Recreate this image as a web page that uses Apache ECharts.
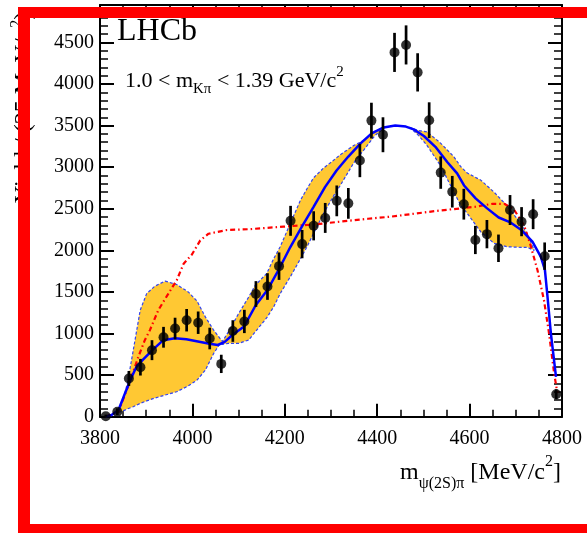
<!DOCTYPE html>
<html>
<head>
<meta charset="utf-8">
<script src="https://cdn.jsdelivr.net/npm/echarts@6/dist/echarts.min.js"></script>
<style>
  html, body { margin: 0; padding: 0; background: #ffffff; }
  #chart { width: 587px; height: 533px; }
</style>
</head>
<body>
<div id="chart"></div>
<script>
// Bin centres (MeV/c^2), yields and statistical errors
const binCenters = [3812.5, 3837.5, 3862.5, 3887.5, 3912.5, 3937.5, 3962.5, 3987.5, 4012.5, 4037.5,
                    4062.5, 4087.5, 4112.5, 4137.5, 4162.5, 4187.5, 4212.5, 4237.5, 4262.5, 4287.5,
                    4312.5, 4337.5, 4362.5, 4387.5, 4412.5, 4437.5, 4462.5, 4487.5, 4512.5, 4537.5,
                    4562.5, 4587.5, 4612.5, 4637.5, 4662.5, 4687.5, 4712.5, 4737.5, 4762.5, 4787.5];
const yields = [5, 60, 460, 595, 800, 955, 1060, 1160, 1130, 940,
                635, 1030, 1145, 1475, 1565, 1810, 2355, 2075, 2295, 2390,
                2595, 2565, 3080, 3560, 3390, 4380, 4470, 4140, 3565, 2935,
                2705, 2555, 2125, 2195, 2025, 2485, 2345, 2435, 1930, 270];
const yieldErrors = [20, 40, 90, 100, 120, 125, 130, 135, 135, 130,
                     110, 130, 140, 155, 160, 165, 180, 170, 175, 180,
                     185, 185, 200, 215, 210, 235, 235, 230, 215, 195,
                     190, 185, 170, 170, 165, 180, 175, 180, 165, 60];

// Full fit (blue)
const fitMass = [3812, 3825, 3840, 3854, 3867, 3879, 3892, 3915, 3937, 3962, 3987, 4012, 4037, 4055,
                 4070, 4087, 4112, 4137, 4162, 4187, 4212, 4237, 4262, 4287, 4312, 4337, 4364, 4388,
                 4414, 4439, 4462, 4479, 4501, 4526, 4552, 4573, 4588, 4613, 4638, 4663, 4687, 4712,
                 4736, 4754, 4763, 4768, 4776, 4787];
const fitYield = [0, 20, 80, 280, 460, 600, 680, 810, 920, 942, 930, 905, 878, 862,
                  900, 985, 1085, 1340, 1520, 1770, 2040, 2285, 2520, 2760, 2960, 3125, 3286, 3406,
                  3478, 3500, 3488, 3455, 3375, 3245, 3060, 2925, 2780, 2625, 2505, 2395, 2340, 2245,
                  2105, 1925, 1765, 1480, 1000, 480];

// Alternative model (red dash-dot)
const altMass = [3812, 3840, 3867, 3883, 3897, 3908, 3926, 3948, 3966, 3981, 3999, 4017, 4035, 4075,
                 4125, 4197, 4260, 4320, 4380, 4429, 4479, 4537, 4581, 4613, 4650, 4675, 4695, 4718,
                 4732, 4747, 4761, 4772, 4783, 4790];
const altYield = [0, 60, 460, 720, 920, 1040, 1280, 1480, 1640, 1840, 1950, 2120, 2200, 2245,
                  2255, 2285, 2310, 2345, 2380, 2405, 2440, 2480, 2505, 2525, 2560, 2560, 2500, 2300,
                  2060, 1760, 1400, 1000, 520, 285];

// Uncertainty band, lower-mass part
const bandAMass = [3840, 3850, 3860, 3872, 3887, 3901, 3919, 3941, 3966, 3991, 4010, 4028, 4046, 4060,
                   4065, 4078, 4100, 4122, 4136, 4161, 4176, 4190, 4212, 4234, 4248, 4262, 4284, 4305,
                   4320, 4349, 4370, 4395, 4415];
const bandAHigh = [50, 200, 420, 800, 1280, 1480, 1570, 1630, 1590, 1500, 1390, 1200, 1040, 940,
                   905, 1020, 1240, 1440, 1580, 1723, 1900, 2043, 2324, 2604, 2740, 2870, 2990, 3080,
                   3150, 3260, 3320, 3430, 3480];
const bandALow = [50, 70, 95, 120, 160, 190, 225, 260, 300, 370, 440, 560, 760, 880,
                  870, 882, 882, 922, 1020, 1190, 1322, 1480, 1683, 1900, 2043, 2200, 2444, 2650,
                  2780, 3050, 3200, 3380, 3470];

// Uncertainty band, higher-mass part
const bandBMass = [4470, 4490, 4508, 4537, 4566, 4581, 4595, 4624, 4653, 4682, 4711, 4725, 4740];
const bandBHigh = [3480, 3440, 3425, 3290, 3125, 3005, 2930, 2845, 2700, 2530, 2320, 2200, 2000];
const bandBLow = [3480, 3380, 3260, 3020, 2700, 2540, 2444, 2224, 2084, 2043, 2036, 2036, 2000];

// Axis ticks
const xTickValues = [3800, 4000, 4200, 4400, 4600, 4800];
const yTickValues = [0, 500, 1000, 1500, 2000, 2500, 3000, 3500, 4000, 4500];

const SERIF = '"Liberation Serif", "DejaVu Serif", serif';
const BAND_FILL = '#ffc833';

const pairs = (xs, ys) => xs.map((x, i) => [x, ys[i]]);
const bands = [
  { mass: bandAMass, high: bandAHigh, low: bandALow },
  { mass: bandBMass, high: bandBHigh, low: bandBLow }
];

const chart = echarts.init(document.getElementById('chart'), null, { renderer: 'canvas' });

const frameAxisX = (pos, showLabels) => ({
  type: 'value', position: pos, min: 3800, max: 4800, interval: 200,
  axisLine: { show: true, onZero: false, lineStyle: { color: '#000', width: 2 } },
  axisTick: { show: true, inside: true, length: 13, lineStyle: { color: '#000', width: 2 } },
  minorTick: { show: true, splitNumber: 4, length: 7, lineStyle: { color: '#000', width: 1.5 } },
  splitLine: { show: false }, minorSplitLine: { show: false },
  axisLabel: {
    show: showLabels, margin: 12, color: '#000', fontFamily: SERIF, fontSize: 20,
    formatter: v => (xTickValues.includes(v) ? String(v) : '')
  }
});
const frameAxisY = (pos, showLabels) => ({
  type: 'value', position: pos, min: 0, max: 4950, interval: 500,
  axisLine: { show: true, onZero: false, lineStyle: { color: '#000', width: 2 } },
  axisTick: { show: true, inside: true, length: 14, lineStyle: { color: '#000', width: 2 } },
  minorTick: { show: true, splitNumber: 5, length: 8, lineStyle: { color: '#000', width: 1.5 } },
  splitLine: { show: false }, minorSplitLine: { show: false },
  axisLabel: {
    show: showLabels, margin: 6, color: '#000', fontFamily: SERIF, fontSize: 20,
    showMaxLabel: false,
    formatter: v => (yTickValues.includes(v) ? String(v) : '')
  }
});

const edgeLine = (xs, ys) => ({
  type: 'line', data: pairs(xs, ys), showSymbol: false, silent: true, z: 3,
  lineStyle: { color: '#3344ee', width: 1.2, type: [3, 2] }
});

chart.setOption({
  animation: false,
  backgroundColor: '#ffffff',
  grid: { left: 100, right: 25, top: 5, bottom: 116.3, containLabel: false },
  xAxis: [frameAxisX('bottom', true), frameAxisX('top', false)],
  yAxis: [frameAxisY('left', true), frameAxisY('right', false)],
  series: [
    {
      type: 'custom', name: 'band', clip: true, z: 2, silent: true,
      data: [0, 1],
      renderItem: (params, api) => {
        const b = bands[params.dataIndex];
        const top = b.mass.map((m, i) => api.coord([m, b.high[i]]));
        const bottom = b.mass.map((m, i) => api.coord([m, b.low[i]])).reverse();
        return { type: 'polygon', shape: { points: top.concat(bottom) }, style: { fill: BAND_FILL } };
      }
    },
    edgeLine(bandAMass, bandAHigh),
    edgeLine(bandAMass, bandALow),
    edgeLine(bandBMass, bandBHigh),
    edgeLine(bandBMass, bandBLow),
    {
      type: 'line', name: 'alt', data: pairs(altMass, altYield), showSymbol: false, z: 4,
      lineStyle: { color: '#ff0000', width: 2.2, type: [5, 3, 1.5, 3] }
    },
    {
      type: 'line', name: 'fit', data: pairs(fitMass, fitYield), showSymbol: false, z: 5,
      lineStyle: { color: '#0000ff', width: 2.5 }
    },
    {
      type: 'custom', name: 'errors', z: 6, silent: true,
      data: binCenters.map((m, i) => [m, yields[i], yieldErrors[i]]),
      renderItem: (params, api) => {
        const m = api.value(0), v = api.value(1), e = api.value(2);
        const p1 = api.coord([m, Math.max(0, v - e)]);
        const p2 = api.coord([m, v + e]);
        return { type: 'line', shape: { x1: p1[0], y1: p1[1], x2: p2[0], y2: p2[1] },
                 style: { stroke: '#000', lineWidth: 2.7 } };
      }
    },
    {
      type: 'scatter', name: 'data', z: 7,
      data: pairs(binCenters, yields),
      symbol: 'circle', symbolSize: 10,
      itemStyle: { color: '#000' }
    }
  ],
  graphic: [
    {
      type: 'text', x: 117, y: 48, z: 50,
      style: { text: 'LHCb', font: '32px ' + SERIF, fill: '#000', textAlign: 'left', textVerticalAlign: 'bottom' }
    },
    {
      type: 'text', x: 125, y: 65, z: 50,
      style: {
        text: '1.0 < m{sub|Kπ} < 1.39 GeV/c{sup|2}',
        font: '22px ' + SERIF, fill: '#000', textAlign: 'left', textVerticalAlign: 'top',
        rich: {
          sub: { fontSize: 15, fontFamily: SERIF, verticalAlign: 'bottom', lineHeight: 32 },
          sup: { fontSize: 15, fontFamily: SERIF, verticalAlign: 'top', lineHeight: 30 }
        },
        lineHeight: 30
      }
    },
    {
      type: 'text', x: 561, y: 454, z: 50,
      style: {
        text: 'm{sub|ψ(2S)π} [MeV/c{sup|2}]',
        font: '24px ' + SERIF, fill: '#000', textAlign: 'right', textVerticalAlign: 'top',
        rich: {
          sub: { fontSize: 16, fontFamily: SERIF, verticalAlign: 'bottom', lineHeight: 38 },
          sup: { fontSize: 16, fontFamily: SERIF, verticalAlign: 'top', lineHeight: 34 }
        },
        lineHeight: 34
      }
    },
    {
      type: 'text', x: 24, y: 203, rotation: Math.PI / 2, z: 50,
      style: {
        text: 'Yield / (25 MeV/c{sup|2})',
        font: '24px ' + SERIF, fill: '#000', textAlign: 'left', textVerticalAlign: 'middle',
        rich: { sup: { fontSize: 16, fontFamily: SERIF, verticalAlign: 'top', lineHeight: 30 } },
        lineHeight: 30
      }
    },
    // red border drawn over the figure
    { type: 'rect', z: 100, shape: { x: 18, y: 7, width: 569, height: 11 }, style: { fill: '#ff0000' } },
    { type: 'rect', z: 100, shape: { x: 18, y: 7, width: 12, height: 526 }, style: { fill: '#ff0000' } },
    { type: 'rect', z: 100, shape: { x: 18, y: 524, width: 569, height: 9 }, style: { fill: '#ff0000' } }
  ]
});
</script>
</body>
</html>
